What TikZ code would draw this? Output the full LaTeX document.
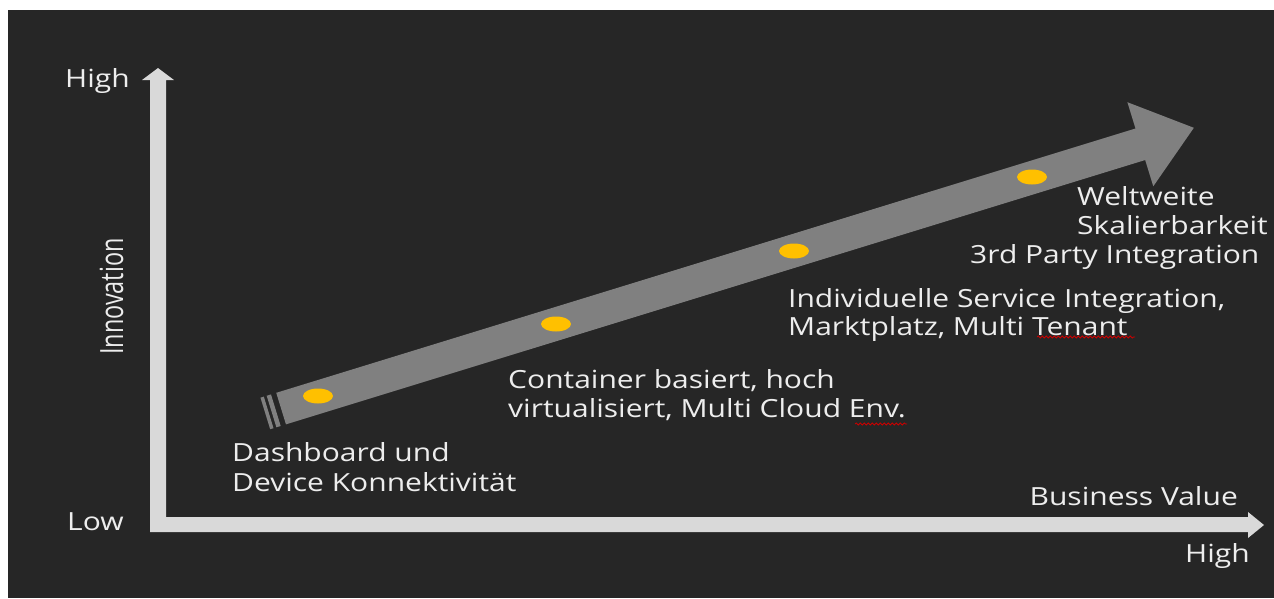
\documentclass[tikz,border=0pt]{standalone}
\usepackage{fontspec}
\setmainfont{Open Sans}[FakeStretch=1.2]
\usepackage{graphicx}
\usetikzlibrary{decorations.pathmorphing,shapes.geometric}
\definecolor{bgdark}{HTML}{262626}
\definecolor{axisgray}{HTML}{D9D9D9}
\definecolor{arrowgray}{HTML}{808080}
\definecolor{dotyellow}{HTML}{FFC000}
\definecolor{txtcol}{HTML}{EDEDED}
\begin{document}
\begin{tikzpicture}[x=1pt,y=-1pt,
  lbl/.style={text=txtcol, inner sep=0pt, anchor=base west, font=\fontsize{25}{30}\selectfont},
  dot/.style={ellipse, fill=dotyellow, minimum width=30pt, minimum height=15pt, inner sep=0pt},
  squiggle/.style={red!80!black, line width=0.8pt, decorate, decoration={snake, amplitude=1pt, segment length=4pt}}]
\useasboundingbox (0,0) rectangle (1274,598);
\fill[white] (0,0) rectangle (1274,598);
\fill[bgdark] (8,10) rectangle (1274,598);
% axes
\fill[axisgray] (150,532) -- (150,80) -- (142,80) -- (158,68) -- (174,80) -- (166,80)
  -- (166,517) -- (1248,517) -- (1248,512) -- (1264,525) -- (1248,538) -- (1248,532) -- cycle;
% big striped arrow
\begin{scope}[shift={(283,408)}, rotate=17.1]
  \fill[arrowgray] (-2,-16.5) -- (897,-16.5) -- (897,-44) -- (953,0) -- (897,44) -- (897,16.5) -- (-2,16.5) -- cycle;
  \fill[arrowgray] (-18.5,-16.5) rectangle (-15,16.5);
  \fill[arrowgray] (-12,-16.5) rectangle (-7.5,16.5);
\end{scope}
% dots
\node[dot] (d1) at (318,396) {};
\node[dot] (d2) at (556,324) {};
\node[dot] (d3) at (794,251) {};
\node[dot] (d4) at (1032,177) {};
% axis labels
\node[lbl] (hightop) at (65,87) {High};
\node[lbl] (low) at (67,530) {Low};
\node[lbl, anchor=base east] (bv) at (1238,505) {Business Value};
\node[lbl, anchor=base east] (highright) at (1250,562) {High};
\node[lbl, rotate=90, font=\fontsize{32}{32}\selectfont] (innov) at (123,355) {\scalebox{0.61}[1]{Innovation}};
% stage labels
\node[lbl] (t1a) at (232,461) {Dashboard und};
\node[lbl] (t1b) at (232,491) {Device Konnektivität};
\node[lbl] (t2a) at (508,388) {Container basiert, hoch};
\node[lbl] (t2b) at (508,417) {virtualisiert, Multi Cloud Env.};
\node[lbl] (t3a) at (788,307) {Individuelle Service Integration,};
\node[lbl] (t3b) at (788,335) {Marktplatz, Multi Tenant};
\node[lbl] (t4a) at (1077,205) {Weltweite};
\node[lbl] (t4b) at (1077,234) {Skalierbarkeit};
\node[lbl] (t4c) at (970,263) {3rd Party Integration};
% spell-check squiggles
\coordinate (s1a) at (855,424);
\coordinate (s1b) at (907,424);
\coordinate (s2a) at (1037,337);
\coordinate (s2b) at (1135,337);
\draw[squiggle] (s1a) -- (s1b);
\draw[squiggle] (s2a) -- (s2b);
\end{tikzpicture}
\end{document}
